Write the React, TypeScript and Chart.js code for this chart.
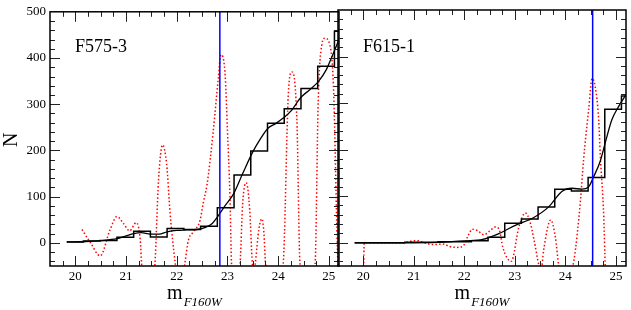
import { useEffect, useRef } from 'react';
import { Chart, registerables } from 'chart.js';

Chart.register(...registerables);

// ---- data ----
const binEdges = [19.83, 20.16, 20.49, 20.82, 21.15, 21.48, 21.81, 22.14, 22.47, 22.8, 23.13, 23.46, 23.79, 24.12, 24.45, 24.78, 25.11, 25.44];
const leftCounts = [2, 4, 5, 12, 25, 13, 31, 29, 36, 76, 147, 199, 259, 290, 334, 382, 458];
const rightCounts = [0, 0, 0, 1, 1, 2, 2, 4, 12, 42, 51, 77, 115, 111, 140, 287, 315];

const leftCurveX = [19.83, 20.2, 20.5, 20.82, 21.0, 21.15, 21.3, 21.48, 21.65, 21.81, 22.0, 22.2, 22.4, 22.55, 22.7, 22.8, 22.95, 23.12, 23.3, 23.5, 23.65, 23.8, 23.95, 24.1, 24.25, 24.45, 24.63, 24.8, 24.95, 25.05, 25.2];
const leftCurveY = [2, 3, 5, 9, 15, 20, 22, 19, 19, 24, 27, 28, 29, 33, 42, 56, 80, 106, 150, 197, 225, 248, 258, 270, 285, 315, 332, 350, 375, 400, 440];

const leftRedX = [20.13, 20.3, 20.49, 20.68, 20.82, 20.95, 21.07, 21.2, 21.28, 21.31, 21.44, 21.57, 21.64, 21.72, 21.8, 21.87, 21.97, 22.06, 22.16, 22.23, 22.33, 22.46, 22.52, 22.6, 22.72, 22.82, 22.87, 22.95, 23.0, 23.05, 23.08, 23.16, 23.25, 23.3, 23.37, 23.44, 23.49, 23.52, 23.55, 23.62, 23.68, 23.72, 23.75, 23.9, 24.1, 24.2, 24.27, 24.37, 24.43, 24.6, 24.73, 24.79, 24.86, 24.92, 25.02, 25.09, 25.18, 25.25];
const leftRedY = [29, 0, -28, 27, 57, 42, 26, 44, 6, -51, -120, -44, 135, 212, 171, 63, -44, -110, -44, 6, 24, 49, 85, 128, 242, 357, 407, 371, 242, 99, -44, -110, -44, 85, 130, 70, -44, -70, -44, 30, 52, 20, -44, -120, -44, 321, 370, 264, -44, -120, -44, 307, 428, 443, 428, 340, -50, -120];

const rightCurveX = [19.83, 21.0, 21.7, 22.0, 22.36, 22.69, 23.02, 23.34, 23.67, 23.93, 24.13, 24.33, 24.46, 24.56, 24.69, 24.79, 24.92, 25.05, 25.2];
const rightCurveY = [0, 0, 2, 4, 7, 20, 38, 52, 77, 110, 117, 115, 120, 142, 175, 215, 264, 292, 318];

const rightRedX = [20.0, 20.02, 20.5, 20.8, 21.0, 21.1, 21.2, 21.4, 21.6, 21.7, 21.85, 21.97, 22.07, 22.16, 22.26, 22.39, 22.5, 22.62, 22.7, 22.76, 22.93, 23.08, 23.21, 23.3, 23.38, 23.48, 23.52, 23.57, 23.71, 23.8, 23.87, 23.98, 24.17, 24.3, 24.36, 24.46, 24.53, 24.59, 24.66, 24.69, 24.76, 24.79, 24.85];
const rightRedY = [-100, 0, 0, 0, 4, 4, 0, -4, -3, -8, -10, -8, 14, 29, 26, 17, 25, 34, 25, -9, -40, 34, 64, 45, 6, -50, -60, -16, 49, 13, -50, -100, -37, 92, 178, 285, 353, 335, 264, 190, 56, -50, -100];

const leftCut = 22.85;
const rightCut = 24.54;

const panelLabels = ['F575-3', 'F615-1'];
const xTickValues = [20, 21, 22, 23, 24, 25];
const yTickValues = [0, 100, 200, 300, 400, 500];

const X_MIN = 19.5;
const X_MAX = 25.2;
const Y_MIN = -50;
const Y_MAX = 500;
const W = 631;
const H = 310;
const FONT = "'Liberation Serif', 'Times New Roman', Times, serif";

function pts(xs: number[], ys: number[]) {
  return xs.map((x, i) => ({ x, y: ys[i] }));
}
function histPts(counts: number[]) {
  return binEdges.map((x, i) => ({ x, y: counts[Math.min(i, counts.length - 1)] }));
}

function makeFramePlugin(label: string, showYTitle: boolean) {
  return {
    id: 'frame-' + label,
    afterDatasetsDraw(chart: any) {
      const ctx = chart.ctx as CanvasRenderingContext2D;
      const { left, right, top, bottom } = chart.chartArea;
      const xs = chart.scales.x;
      const ys = chart.scales.y;
      ctx.save();
      ctx.strokeStyle = '#222';
      ctx.lineWidth = 1;
      ctx.beginPath();
      for (let v = X_MIN + 0.25; v < X_MAX; v += 0.25) {
        const major = Math.abs(v - Math.round(v)) < 1e-6;
        const len = major ? 10 : 5;
        const px = Math.round(xs.getPixelForValue(v)) + 0.5;
        ctx.moveTo(px, bottom);
        ctx.lineTo(px, bottom - len);
        ctx.moveTo(px, top);
        ctx.lineTo(px, top + len);
      }
      for (let v = -40; v < Y_MAX; v += 20) {
        const major = v % 100 === 0;
        const len = major ? 10 : 5;
        const py = Math.round(ys.getPixelForValue(v)) + 0.5;
        ctx.moveTo(left, py);
        ctx.lineTo(left + len, py);
        ctx.moveTo(right, py);
        ctx.lineTo(right - len, py);
      }
      ctx.stroke();
      ctx.strokeStyle = '#000';
      ctx.lineWidth = 1.5;
      ctx.strokeRect(left, top, right - left, bottom - top);

      ctx.fillStyle = '#000';
      ctx.textAlign = 'left';
      ctx.textBaseline = 'alphabetic';
      ctx.font = `18px ${FONT}`;
      ctx.fillText(label, left + 25, 52);

      // x title m_F160W
      ctx.font = `20px ${FONT}`;
      const mW = ctx.measureText('m').width;
      ctx.font = `italic 13px ${FONT}`;
      const sW = ctx.measureText('F160W').width;
      const total = mW + sW + 1;
      const x0 = (left + right) / 2 - total / 2;
      ctx.font = `20px ${FONT}`;
      ctx.fillText('m', x0, 299);
      ctx.font = `italic 13px ${FONT}`;
      ctx.fillText('F160W', x0 + mW + 1, 306);

      if (showYTitle) {
        ctx.save();
        ctx.translate(17, (top + bottom) / 2 + 1);
        ctx.rotate(-Math.PI / 2);
        ctx.textAlign = 'center';
        ctx.font = `20px ${FONT}`;
        ctx.fillText('N', 0, 0);
        ctx.restore();
      }
      ctx.restore();
    },
  };
}

function makeConfig(p: {
  counts: number[];
  curveX: number[];
  curveY: number[];
  redX: number[];
  redY: number[];
  cut: number;
  label: string;
  areaLeft: number;
  areaRight: number;
  showY: boolean;
}): any {
  return {
    type: 'line',
    data: {
      datasets: [
        {
          data: [{ x: p.cut, y: Y_MIN }, { x: p.cut, y: Y_MAX }],
          borderColor: '#0000ff',
          borderWidth: 1.5,
          pointRadius: 0,
          clip: 0,
        },
        {
          data: pts(p.curveX, p.curveY),
          borderColor: '#000',
          borderWidth: 1.3,
          pointRadius: 0,
          cubicInterpolationMode: 'monotone',
          clip: 0,
        },
        {
          data: histPts(p.counts),
          borderColor: '#000',
          borderWidth: 1.5,
          pointRadius: 0,
          stepped: 'before',
          clip: 0,
        },
        {
          data: pts(p.redX, p.redY),
          borderColor: '#ff0000',
          borderWidth: 1.5,
          borderDash: [1.5, 2.2],
          pointRadius: 0,
          cubicInterpolationMode: 'monotone',
          clip: 0,
        },
      ],
    },
    options: {
      responsive: false,
      animation: false,
      events: [],
      layout: { padding: { top: 10, right: W - p.areaRight, left: 0, bottom: 0 } },
      plugins: { legend: { display: false }, tooltip: { enabled: false } },
      scales: {
        x: {
          type: 'linear',
          min: X_MIN,
          max: X_MAX,
          grid: { display: false, drawTicks: false },
          border: { display: false },
          ticks: { font: { family: FONT, size: 13 }, color: '#000', padding: 3, maxRotation: 0, autoSkip: false },
          afterBuildTicks: (s: any) => {
            s.ticks = xTickValues.map((v) => ({ value: v }));
          },
          afterFit: (s: any) => {
            s.height = 44;
          },
        },
        y: {
          type: 'linear',
          min: Y_MIN,
          max: Y_MAX,
          grid: { display: false, drawTicks: false },
          border: { display: false },
          ticks: { display: p.showY, font: { family: FONT, size: 13 }, color: '#000', padding: 4 },
          afterBuildTicks: (s: any) => {
            s.ticks = yTickValues.map((v) => ({ value: v }));
          },
          afterFit: (s: any) => {
            s.width = p.areaLeft;
          },
        },
      },
    },
    plugins: [makeFramePlugin(p.label, p.showY)],
  };
}

export default function App() {
  const leftRef = useRef<HTMLCanvasElement>(null);
  const rightRef = useRef<HTMLCanvasElement>(null);

  useEffect(() => {
    const c1 = new Chart(
      leftRef.current as HTMLCanvasElement,
      makeConfig({
        counts: leftCounts,
        curveX: leftCurveX,
        curveY: leftCurveY,
        redX: leftRedX,
        redY: leftRedY,
        cut: leftCut,
        label: panelLabels[0],
        areaLeft: 50,
        areaRight: 339,
        showY: true,
      })
    );
    const c2 = new Chart(
      rightRef.current as HTMLCanvasElement,
      makeConfig({
        counts: rightCounts,
        curveX: rightCurveX,
        curveY: rightCurveY,
        redX: rightRedX,
        redY: rightRedY,
        cut: rightCut,
        label: panelLabels[1],
        areaLeft: 338,
        areaRight: 626,
        showY: false,
      })
    );
    return () => {
      c1.destroy();
      c2.destroy();
    };
  }, []);

  return (
    <div style={{ position: 'fixed', left: 0, top: 0, width: W, height: H, background: '#fff' }}>
      <canvas ref={leftRef} width={W} height={H} style={{ position: 'absolute', left: 0, top: 0 }} />
      <canvas ref={rightRef} width={W} height={H} style={{ position: 'absolute', left: 0, top: 0 }} />
    </div>
  );
}
